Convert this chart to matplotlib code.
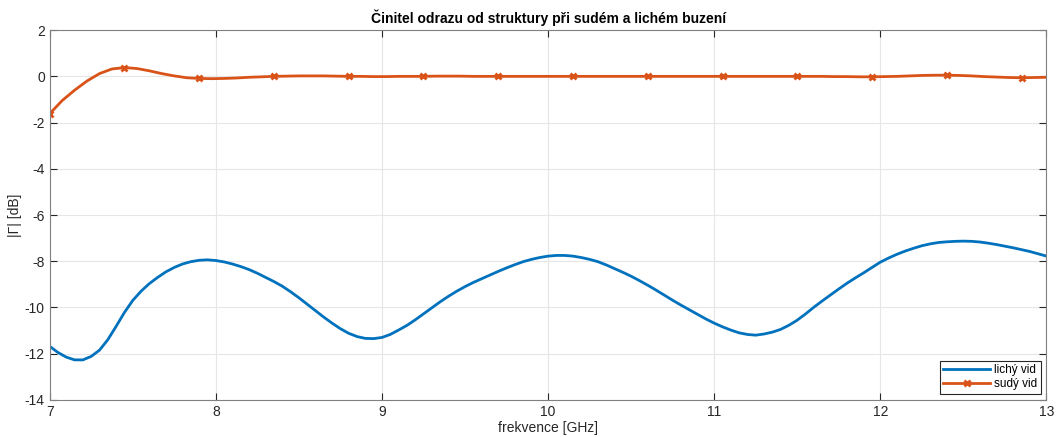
# Cinitel odrazu - lichy a sudy vid
import numpy as np
import matplotlib.pyplot as plt

plt.rcParams['font.family'] = ['Liberation Sans', 'DejaVu Sans']
plt.rcParams['axes.unicode_minus'] = False

# lichy vid (odd mode), step 0.05 GHz
f_odd = np.round(np.arange(7.0, 13.0001, 0.05), 3)
g_odd = [-11.68, -11.95, -12.15, -12.27, -12.27, -12.12, -11.85, -11.4, -10.82, -10.22,
         -9.7, -9.3, -8.97, -8.7, -8.46, -8.27, -8.12, -8.02, -7.96, -7.94,
         -7.97, -8.03, -8.12, -8.23, -8.36, -8.52, -8.7, -8.88, -9.08, -9.32,
         -9.58, -9.86, -10.14, -10.42, -10.68, -10.92, -11.12, -11.26, -11.34, -11.35,
         -11.3, -11.17, -10.98, -10.78, -10.54, -10.28, -10.02, -9.76, -9.52, -9.3,
         -9.1, -8.92, -8.76, -8.6, -8.44, -8.29, -8.15, -8.02, -7.92, -7.84,
         -7.78, -7.75, -7.75, -7.78, -7.84, -7.92, -8.02, -8.16, -8.32, -8.48,
         -8.65, -8.84, -9.04, -9.25, -9.47, -9.69, -9.9, -10.1, -10.3, -10.5,
         -10.68, -10.84, -10.98, -11.1, -11.17, -11.2, -11.15, -11.07, -10.95, -10.77,
         -10.55, -10.28, -9.99, -9.72, -9.46, -9.2, -8.95, -8.72, -8.5, -8.27,
         -8.04, -7.86, -7.7, -7.56, -7.44, -7.33, -7.25, -7.19, -7.16, -7.14,
         -7.13, -7.14, -7.17, -7.22, -7.28, -7.35, -7.42, -7.5, -7.58, -7.68,
         -7.78]

# sudy vid (even mode), step 0.075 GHz, marker every 6th point
f_even = np.round(np.arange(7.0, 13.0001, 0.075), 3)
g_even = [-1.62, -1.05, -0.6, -0.2, 0.12, 0.32, 0.38, 0.34, 0.24, 0.12,
          0.02, -0.06, -0.09, -0.1, -0.09, -0.07, -0.04, -0.02, 0.0, 0.01,
          0.02, 0.02, 0.02, 0.01, 0.0, 0.0, -0.01, -0.01, 0.0, 0.0,
          0.0, 0.01, 0.01, 0.01, 0.0, 0.0, 0.0, 0.0, 0.0, 0.0,
          0.0, 0.0, 0.0, 0.0, 0.0, 0.0, 0.0, 0.0, 0.0, 0.0,
          0.0, 0.0, 0.0, 0.0, 0.0, 0.0, 0.0, 0.0, 0.0, 0.0,
          0.0, 0.0, 0.0, -0.01, -0.01, -0.02, -0.02, -0.01, 0.0, 0.02,
          0.04, 0.05, 0.05, 0.04, 0.02, -0.01, -0.03, -0.05, -0.06, -0.05,
          -0.04]

fig, ax = plt.subplots(figsize=(10.56, 4.37), dpi=100)
fig.subplots_adjust(left=0.047, right=0.991, top=0.931, bottom=0.085)

ax.plot(f_odd, g_odd, color='#0072BD', linewidth=2, label='lichý vid')
ax.plot(f_even, g_even, color='#D95319', linewidth=2, marker='x', markersize=5,
        markeredgewidth=2, markevery=6, label='sudý vid')

ax.set_xlim(7, 13)
ax.set_ylim(-14, 2)
ax.set_xticks(np.arange(7, 14, 1))
ax.set_yticks(np.arange(-14, 3, 2))
ax.grid(True, color='#e6e6e6', linewidth=0.8)
ax.tick_params(direction='in', top=True, right=True, colors='#262626', labelsize=10, length=5)
for s in ax.spines.values():
    s.set_color('#808080')

ax.set_title('Činitel odrazu od struktury při sudém a lichém buzení', fontsize=10,
             fontweight='bold', pad=5)
ax.set_xlabel('frekvence [GHz]', fontsize=10, color='#262626', labelpad=2)
ax.set_ylabel('|Γ| [dB]', fontsize=10, color='#262626', labelpad=2)

leg = ax.legend(loc='lower right', fontsize=8.5, fancybox=False, framealpha=1,
                borderpad=0.3, handlelength=4, labelspacing=0.2, handletextpad=0.3)
leg.get_frame().set_edgecolor('#262626')
leg.get_frame().set_linewidth(0.8)

fig.savefig('out.png', dpi=100)
